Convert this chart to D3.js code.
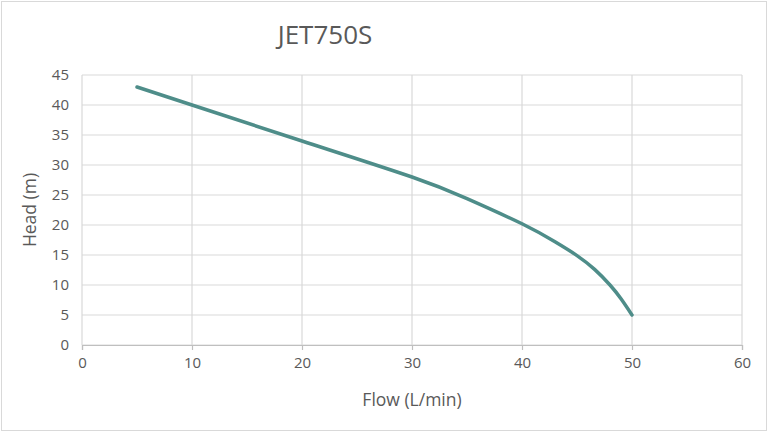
<!DOCTYPE html>
<html>
<head>
<meta charset="utf-8">
<script src="https://cdn.jsdelivr.net/npm/d3@7"></script>
<style>
  body { margin: 0; background: #fff; }
  text { font-family: "Open Sans", "Noto Sans", sans-serif; fill: #595959; }
</style>
</head>
<body>
<svg width="768" height="433"></svg>
<script>
const flow = [5, 10, 20, 30, 35, 40, 43, 45, 46.6, 48, 49, 50];
const head = [43, 40, 34, 28, 24.4, 20.2, 17.2, 14.9, 12.6, 10, 7.7, 5];
const xTicks = [0, 10, 20, 30, 40, 50, 60];
const yTicks = [0, 5, 10, 15, 20, 25, 30, 35, 40, 45];

const svg = d3.select("svg");
const margin = {top: 75, right: 26, bottom: 88, left: 82};
const width = 768 - margin.left - margin.right;
const height = 433 - margin.top - margin.bottom;

// outer frame
svg.append("rect")
  .attr("x", 1.5).attr("y", 1.5)
  .attr("width", 765).attr("height", 429)
  .attr("fill", "#fff").attr("stroke", "#d9d9d9");

const g = svg.append("g").attr("transform", `translate(${margin.left},${margin.top})`);

const x = d3.scaleLinear().domain([0, 60]).range([0, width]);
const y = d3.scaleLinear().domain([0, 45]).range([height, 0]);

// grid
g.append("g").selectAll("line").data(yTicks).join("line")
  .attr("x1", 0).attr("x2", width)
  .attr("y1", d => y(d)).attr("y2", d => y(d))
  .attr("stroke", "#d9d9d9").attr("stroke-width", 1.2);
g.append("g").selectAll("line").data(xTicks).join("line")
  .attr("y1", 0).attr("y2", height)
  .attr("x1", d => x(d)).attr("x2", d => x(d))
  .attr("stroke", "#d9d9d9").attr("stroke-width", 1.2);

// x axis
const xAxis = g.append("g").attr("transform", `translate(0,${height})`)
  .call(d3.axisBottom(x).tickValues(xTicks).tickSize(5).tickPadding(7));
xAxis.select(".domain").attr("stroke", "#bfbfbf").attr("stroke-width", 1.2);
xAxis.selectAll(".tick line").attr("stroke", "#bfbfbf").attr("stroke-width", 1.2);
xAxis.selectAll("text").attr("font-size", 15).attr("fill", "#595959")
  .style("font-family", "'Open Sans', sans-serif");

// y axis
const yAxis = g.append("g")
  .call(d3.axisLeft(y).tickValues(yTicks).tickSize(0).tickPadding(13));
yAxis.select(".domain").remove();
yAxis.selectAll("text").attr("font-size", 15).attr("fill", "#595959")
  .style("font-family", "'Open Sans', sans-serif");

// curve
const pts = flow.map((f, i) => [f, head[i]]);
g.append("path")
  .datum(pts)
  .attr("fill", "none")
  .attr("stroke", "#4e8d89")
  .attr("stroke-width", 3.5)
  .attr("stroke-linecap", "round")
  .attr("d", d3.line().x(d => x(d[0])).y(d => y(d[1])).curve(d3.curveNatural));

// titles
svg.append("text")
  .attr("x", 325).attr("y", 44)
  .attr("text-anchor", "middle")
  .attr("font-size", 26)
  .text("JET750S");

svg.append("text")
  .attr("x", margin.left + width / 2).attr("y", 406)
  .attr("text-anchor", "middle")
  .attr("font-size", 17.5)
  .text("Flow (L/min)");

svg.append("text")
  .attr("transform", `translate(36,${margin.top + height / 2}) rotate(-90)`)
  .attr("text-anchor", "middle")
  .attr("font-size", 17.5)
  .text("Head (m)");
</script>
</body>
</html>
